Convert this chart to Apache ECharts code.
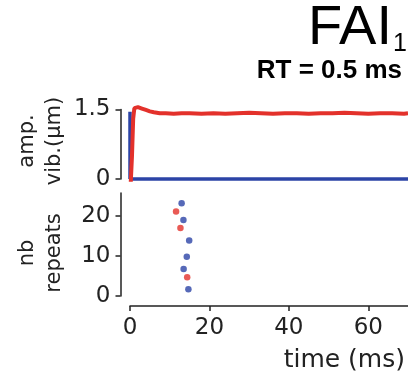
<!DOCTYPE html>
<html>
<head>
<meta charset="utf-8">
<script src="https://cdn.jsdelivr.net/npm/echarts@6/dist/echarts.min.js"></script>
<style>
html,body{margin:0;padding:0;background:#fff;}
#c{width:408px;height:376px;}
</style>
</head>
<body>
<div id="c"></div>
<script>
// Top panel: vibration amplitude (µm) vs time (ms)
var redT = [0.2, 0.5, 0.8, 1.1, 1.5, 2.0, 3.0, 4.0, 5.0, 6.0, 7.5, 9, 11, 13, 15, 18, 21, 24, 27, 30, 33, 36, 39, 42, 45, 48, 51, 54, 57, 60, 63, 66, 69, 70];
var redV = [-0.06, 0.5, 1.3, 1.53, 1.56, 1.55, 1.52, 1.49, 1.46, 1.44, 1.42, 1.42, 1.41, 1.42, 1.42, 1.41, 1.42, 1.41, 1.42, 1.43, 1.42, 1.41, 1.42, 1.42, 1.41, 1.42, 1.42, 1.43, 1.42, 1.41, 1.42, 1.42, 1.41, 1.42];
var blueT = [0, 0, 0.15, 70];
var blueV = [0, 1.45, 0, 0];
// Bottom panel: repeats vs time (ms)
var blueDotT = [13.0, 13.45, 14.9, 14.3, 13.5, 14.7];
var blueDotN = [23.2, 19.0, 13.9, 9.8, 6.75, 1.7];
var redDotT = [11.6, 12.7, 14.4];
var redDotN = [21.1, 17.0, 4.7];
// Tick labels
var topYTicks = [0, 1.5];
var botYTicks = [0, 10, 20];
var xTicks = [0, 20, 40, 60];

var RED = '#e3312b', BLUE = '#2c44a6', AX = '#222';
function zip(a, b) { return a.map(function (v, i) { return [v, b[i]]; }); }

var chart = echarts.init(document.getElementById('c'), null, {renderer: 'canvas'});
var axLine = {show: true, onZero: false, lineStyle: {color: AX, width: 1.5}};
var tickStyle = {show: true, inside: false, length: 5, lineStyle: {color: AX, width: 1.5}};
var lblFont = {fontFamily: 'DejaVu Sans', fontSize: 23, color: '#222'};

chart.setOption({
  animation: false,
  grid: [
    {left: 130, top: 109.5, width: 278, height: 69.5},
    {left: 130, top: 193, width: 278, height: 103}
  ],
  xAxis: [
    {gridIndex: 0, type: 'value', min: 0, max: 70, show: false},
    {gridIndex: 1, type: 'value', min: 0, max: 70, offset: 10,
      axisLine: axLine, splitLine: {show: false},
      axisTick: Object.assign({customValues: xTicks}, tickStyle),
      axisLabel: Object.assign({customValues: xTicks, margin: 11}, lblFont)}
  ],
  yAxis: [
    {gridIndex: 0, type: 'value', min: 0, max: 1.5, offset: 9.5,
      axisLine: axLine, splitLine: {show: false},
      axisTick: Object.assign({customValues: topYTicks}, tickStyle),
      axisLabel: Object.assign({customValues: topYTicks, margin: 10,
        formatter: function (v) { return v === 0 ? '0' : String(v); }}, lblFont)},
    {gridIndex: 1, type: 'value', min: 0, max: 25.75, offset: 9.5,
      axisLine: axLine, splitLine: {show: false},
      axisTick: Object.assign({customValues: botYTicks}, tickStyle),
      axisLabel: Object.assign({customValues: botYTicks, margin: 10}, lblFont)}
  ],
  series: [
    {type: 'line', xAxisIndex: 0, yAxisIndex: 0, data: zip(blueT, blueV), showSymbol: false,
      clip: false, lineStyle: {color: BLUE, width: 3.5}, z: 2},
    {type: 'line', xAxisIndex: 0, yAxisIndex: 0, data: zip(redT, redV), showSymbol: false,
      clip: false, lineStyle: {color: RED, width: 4}, z: 3},
    {type: 'scatter', xAxisIndex: 1, yAxisIndex: 1, data: zip(blueDotT, blueDotN),
      symbolSize: 6.5, itemStyle: {color: BLUE}},
    {type: 'scatter', xAxisIndex: 1, yAxisIndex: 1, data: zip(redDotT, redDotN),
      symbolSize: 6.5, itemStyle: {color: RED}}
  ],
  graphic: [
    {type: 'text', x: 392, y: 57, style: {text: 'FAI', fontFamily: 'Liberation Sans', fontSize: 56,
      fill: '#000', align: 'right', verticalAlign: 'bottom'}},
    {type: 'text', x: 393, y: 57, style: {text: '1', fontFamily: 'Liberation Sans', fontSize: 25,
      fill: '#000', align: 'left', verticalAlign: 'bottom'}},
    {type: 'text', x: 402, y: 71, style: {text: 'RT = 0.5 ms', fontFamily: 'Liberation Sans', fontWeight: 'bold',
      fontSize: 26, fill: '#000', align: 'right', verticalAlign: 'middle'}},
    {type: 'text', x: 41, y: 141, rotation: Math.PI / 2, style: {text: 'amp.\nvib.(µm)', fontFamily: 'DejaVu Sans',
      fontSize: 21, lineHeight: 27, fill: '#222', align: 'center', verticalAlign: 'middle'}},
    {type: 'text', x: 41, y: 253, rotation: Math.PI / 2, style: {text: 'nb\nrepeats', fontFamily: 'DejaVu Sans',
      fontSize: 21, lineHeight: 27, fill: '#222', align: 'center', verticalAlign: 'middle'}},
    {type: 'text', x: 405, y: 360, style: {text: 'time (ms)', fontFamily: 'DejaVu Sans',
      fontSize: 25, fill: '#222', align: 'right', verticalAlign: 'middle'}}
  ]
});
</script>
</body>
</html>
